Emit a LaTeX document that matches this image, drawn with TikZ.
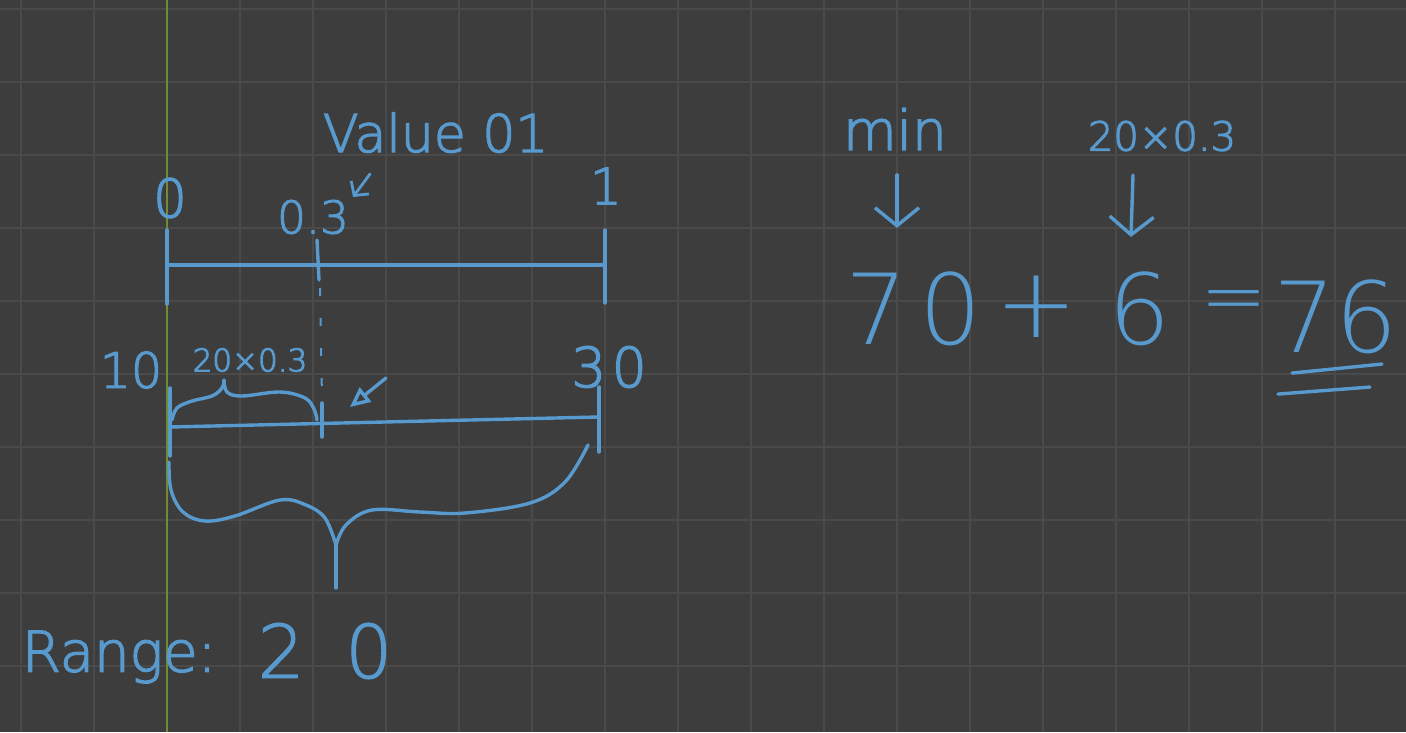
\documentclass[tikz,border=0pt]{standalone}
\usepackage{fontspec}
\usepackage{tikz}
\usetikzlibrary{arrows.meta,calc,positioning}
\newfontfamily\hand{DejaVu Sans ExtraLight}
\newcommand\handsz[1]{\hand\fontsize{#1}{#1}\selectfont}
\newcommand\handbold[2]{\handsz{#1}\addfontfeature{FakeBold=#2}}
\definecolor{skbg}{RGB}{61,61,61}
\definecolor{skgrid}{RGB}{74,74,74}
\definecolor{skaxis}{RGB}{112,140,52}
\definecolor{skblue}{RGB}{88,154,206}

\begin{document}
\begin{tikzpicture}[x=1pt,y=-1pt,
    ink/.style={draw=skblue,line width=3.4pt,line cap=round,line join=round},
    txt/.style={text=skblue,inner sep=0pt,outer sep=0pt},
    barb/.style={ink,-{Straight Barb[length=18pt,width=44pt]}}]
  \useasboundingbox (0,0) rectangle (1406,732);
  \fill[skbg] (0,0) rectangle (1406,732);
  % grid of the canvas
  \foreach \x in {21,94,...,1406} \draw[skgrid,line width=1.2pt] (\x,0)--(\x,732);
  \foreach \y in {9,82,...,732} \draw[skgrid,line width=1.2pt] (0,\y)--(1406,\y);
  \draw[skaxis,line width=1.2pt] (167,0)--(167,732);

  % upper scale 0..1
  \node[txt,font=\handbold{53}{2.5}] (zero) at (170,198) {0};
  \node[txt,font=\handbold{50}{2.5}] (one) at (606,186) {1};
  \node[txt,font=\handbold{45}{2.5}] (pt) at (313,217) {0.3};
  \node[txt,font=\handbold{52}{2.5},anchor=base west] (val) at (323,152) {Value 01};
  \draw[ink,line width=2.8pt,-{Straight Barb[length=10pt,width=22pt]}] (370,174)--(353,197);
  \coordinate (t0) at (167,265); \coordinate (t1) at (605,265);
  \draw[ink] (t0)--(t1);
  \draw[ink] (167,230)--(167,304);
  \draw[ink] (605,230)--(605,303);
  \draw[ink] (317,240)--(319,280);
  \draw[skblue,line width=2pt,dash pattern=on 8pt off 22pt] (320,288)--(322,398);

  % lower scale 10..30
  \node[txt,font=\handbold{49}{2.5}] (ten) at (131,370) {10};
  \node[txt,font=\handbold{31}{3.5}] (share) at (250,360) {20×0.3};
  \node[txt,font={\handbold{55}{2.5}\addfontfeature{LetterSpace=10}}] (thirty) at (609,367) {30};
  \coordinate (b0) at (170,427); \coordinate (b1) at (598,417);
  \draw[ink] (b0)--(b1);
  \draw[ink] (170,388)--(170,456);
  \draw[ink] (322,403)--(322,437);
  \draw[ink] (599,387)--(599,452);
  \draw[ink] plot[smooth,tension=.6] coordinates {(172,420) (177,408) (192,401) (212,396) (222,388) (224,380)};
  \draw[ink] plot[smooth,tension=.6] coordinates {(224,380) (227,392) (242,396) (280,392) (305,398) (314,409) (317,420)};
  \draw[ink,-{Triangle[open,length=20pt,width=18pt]}] (386,378)--(350,407);
  \draw[ink] plot[smooth,tension=.6] coordinates {(169,462) (171,490) (183,512) (205,521) (235,516) (280,500) (306,505) (325,518) (336,545)};
  \draw[ink] plot[smooth,tension=.6] coordinates {(336,545) (346,525) (372,510) (420,512) (465,513) (530,503) (565,482) (588,445)};
  \draw[ink] (336,545)--(336,588);
  \node[txt,font=\handbold{56}{2.5},anchor=west] (range) at (22,657) {Range:};
  \node[txt,font={\handbold{74}{1.5}\addfontfeature{LetterSpace=55}}] (rangeval) at (325,651) {20};

  % the sum
  \node[txt,font=\handbold{55}{2.5}] (min) at (895,129) {min};
  \node[txt,font=\handbold{40}{3}] (mult) at (1162,136) {20×0.3};
  \node[txt,font={\handsz{98}\addfontfeature{LetterSpace=12}}] (seventy) at (914,309) {70};
  \node[txt,font=\handsz{98}] (plus) at (1037,307) {+};
  \node[txt,font=\handsz{98}] (six) at (1140,309) {6};
  \node[txt,font=\handsz{80}] (equals) at (1234,307) {=};
  \node[txt,font=\handsz{98}] (result) at (1336,317) {76};
  \draw[barb] ($(min.south)+(2,25)$) -- ($(seventy.north)+(-17,-44)$);
  \draw[barb] ($(mult.south)+(-29,24)$) -- ($(six.north)+(-9,-35)$);
  \draw[ink] ($(result.south)+(-44,19)$) -- ($(result.south)+(46,10)$);
  \draw[ink] ($(result.south)+(-58,40)$) -- ($(result.south)+(34,33)$);
\end{tikzpicture}
\end{document}
